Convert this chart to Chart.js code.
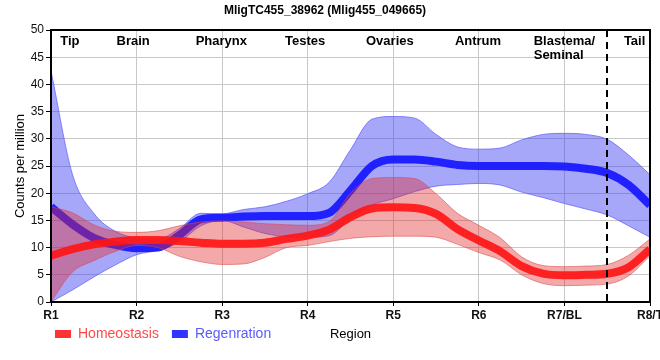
<!DOCTYPE html>
<html><head><meta charset="utf-8">
<script src="https://cdn.jsdelivr.net/npm/chart.js@4"></script>
<style>html,body{margin:0;padding:0;background:#fff;overflow:hidden}</style>
</head><body>
<canvas id="c" width="660" height="360"></canvas>
<script>
const positions    = [1,1.25,1.5,1.75,2,2.25,2.5,2.75,3,3.25,3.5,3.75,4,4.25,4.5,4.75,5,5.25,5.5,5.75,6,6.25,6.5,6.75,7,7.25,7.5,7.75,8];
const regionTicks  = ['R1','R2','R3','R4','R5','R6','R7/BL','R8/T'];
const homeoMean    = [8.5,9.7,10.6,11.1,11.4,11.4,11.2,10.9,10.7,10.7,10.9,11.6,12.2,13.3,15.6,17.2,17.4,17.3,16.2,13.4,11.3,9.3,6.6,5.2,4.9,5.0,5.2,6.4,9.7];
const homeoUpper   = [17.5,16.4,14.2,13.0,12.8,13.1,14.0,14.7,14.9,14.7,14.4,14.2,14.1,14.8,20.0,22.7,22.9,22.7,19.9,16.3,14.1,11.8,8.3,6.7,6.5,6.6,6.9,8.6,11.6];
const homeoLower   = [0,5.5,7.6,9.3,10.4,10.0,8.4,7.4,6.9,7.0,8.2,10.0,10.4,11.1,11.7,12.0,12.1,12.1,11.9,10.6,9.1,7.7,5.0,3.4,3.0,3.1,3.3,4.8,8.5];
const regenMean    = [17.5,14.3,11.8,10.5,9.9,10.0,12.3,15.2,15.5,15.7,15.8,15.8,15.8,16.4,20.5,25.0,26.2,26.2,25.8,25.2,25.0,25.0,25.0,25.0,24.9,24.5,23.7,21.5,17.8];
const regenUpper   = [42.5,23.5,16.3,13.0,11.8,11.6,13.5,16.3,16.2,17.0,17.5,18.5,19.9,22.0,28.0,33.6,34.1,33.8,30.8,28.5,28.1,28.3,29.8,30.8,31.0,30.8,29.9,27.0,23.4];
const regenLower   = [0,2.2,4.6,6.8,8.7,9.5,11.0,14.0,15.0,13.8,12.6,12.0,11.9,12.2,15.3,17.8,19.0,20.3,21.3,21.6,21.8,21.5,20.2,19.2,18.1,17.1,16.0,14.0,11.9];
const anatomyNames = [['Tip'],['Brain'],['Pharynx'],['Testes'],['Ovaries'],['Antrum'],['Blastema/','Seminal'],['Tail']];
const anatomyAt    = [1.22,1.96,2.99,3.97,4.96,5.99,7.0,7.82];
const dividerAt    = 7.5;
const seriesNames  = ['Homeostasis','Regenration'];
const chartTitle   = 'MligTC455_38962 (Mlig455_049665)';
const xTitle       = 'Region';
const yTitle       = 'Counts per million';

const pts = arr => positions.map((x,i)=>({x, y: arr[i]}));
Chart.defaults.font.family = '"Liberation Sans", Arial, sans-serif';
Chart.defaults.color = '#111';

const BLUE_BAND='rgba(60,60,245,0.45)', BLUE_EDGE='rgba(90,90,250,0.7)';
const RED_BAND='rgba(225,40,40,0.40)', RED_EDGE='rgba(220,70,70,0.55)';
const BLUE_LINE='rgba(22,22,255,0.92)', RED_LINE='rgba(255,22,22,0.92)';

const band = (data, edge, extra) => Object.assign({data: pts(data), borderColor: edge, borderWidth: 1, pointRadius: 0, cubicInterpolationMode: 'monotone', fill: false}, extra);

const decor = {
  id: 'decor',
  afterLayout(chart){ const l = chart.legend; l.left += 42; l.right += 42; l.top -= 9; l.bottom -= 9; },
  afterDatasetsDraw(chart){
    const {ctx, chartArea: a, scales: {x}} = chart;
    ctx.save();
    const dx = Math.round(x.getPixelForValue(dividerAt));
    ctx.strokeStyle = '#000'; ctx.lineWidth = 2; ctx.setLineDash([7,5]);
    ctx.beginPath(); ctx.moveTo(dx, a.top); ctx.lineTo(dx, a.bottom); ctx.stroke();
    ctx.setLineDash([]);
    ctx.strokeRect(a.left, a.top, a.right - a.left, a.bottom - a.top);
    ctx.fillStyle = '#000';
    ctx.font = 'bold 13px "Liberation Sans", Arial, sans-serif';
    ctx.textBaseline = 'middle';
    anatomyNames.forEach((lines, i) => {
      const cx = x.getPixelForValue(anatomyAt[i]);
      const w = ctx.measureText(lines[0]).width;
      ctx.textAlign = 'left';
      lines.forEach((t, j) => ctx.fillText(t, cx - w/2, a.top + 11 + j*14));
    });
    ctx.font = '13px "Liberation Sans", Arial, sans-serif';
    ctx.textAlign = 'center';
    ctx.fillText(xTitle, (a.left + a.right)/2, chart.legend.top + 20);
    ctx.restore();
  }
};

new Chart(document.getElementById('c'), {
  type: 'line',
  data: { datasets: [
    band(regenLower, BLUE_EDGE, {order: 4}),
    band(regenUpper, BLUE_EDGE, {order: 4, fill: 0, backgroundColor: BLUE_BAND}),
    band(homeoLower, RED_EDGE, {order: 2}),
    band(homeoUpper, RED_EDGE, {order: 2, fill: 2, backgroundColor: RED_BAND}),
    {label: seriesNames[1], data: pts(regenMean), borderColor: BLUE_LINE, borderWidth: 8, pointRadius: 0, cubicInterpolationMode: 'monotone', fill: false, order: 3},
    {label: seriesNames[0], data: pts(homeoMean), borderColor: RED_LINE, borderWidth: 8, pointRadius: 0, cubicInterpolationMode: 'monotone', fill: false, order: 1}
  ]},
  options: {
    responsive: false, animation: false, devicePixelRatio: 1,
    layout: { padding: { left: 0, right: 10, top: 0, bottom: 0 } },
    plugins: {
      tooltip: { enabled: false },
      title: { display: true, text: chartTitle, color: '#000', font: { size: 12, weight: 'bold' }, padding: { top: 3, bottom: 12.6 } },
      legend: {
        position: 'bottom', align: 'start',
        labels: {
          boxWidth: 16, boxHeight: 8, padding: 13, font: { size: 14 },
          generateLabels: () => [
            {text: seriesNames[0], fillStyle: '#ff3333', strokeStyle: '#ff3333', lineWidth: 0, fontColor: '#ff4a4a', hidden: false, datasetIndex: 5},
            {text: seriesNames[1], fillStyle: '#3333ff', strokeStyle: '#3333ff', lineWidth: 0, fontColor: '#5a5aff', hidden: false, datasetIndex: 4}
          ]
        }
      }
    },
    scales: {
      x: {
        type: 'linear', min: 1, max: 8,
        ticks: { stepSize: 1, autoSkip: false, maxRotation: 0, padding: 2, color: '#111', font: { size: 12, weight: 'bold' }, callback: v => regionTicks[v - 1] },
        grid: { color: '#c8c8c8', tickColor: '#000', tickLength: 4 },
        border: { color: '#000', width: 2 },
        afterFit(s){ s.height = 21; s.paddingLeft = 0; s.paddingRight = 0; }
      },
      y: {
        min: 0, max: 50,
        ticks: { stepSize: 5, padding: 2, color: '#111', font: { size: 12 } },
        grid: { color: '#c8c8c8', tickColor: '#000', tickLength: 5 },
        border: { color: '#000', width: 2 },
        title: { display: true, text: yTitle, color: '#000', font: { size: 13 }, padding: { top: 13, bottom: 0 } },
        afterFit(s){ s.width = 51; }
      }
    }
  },
  plugins: [decor]
});
</script>
</body></html>
